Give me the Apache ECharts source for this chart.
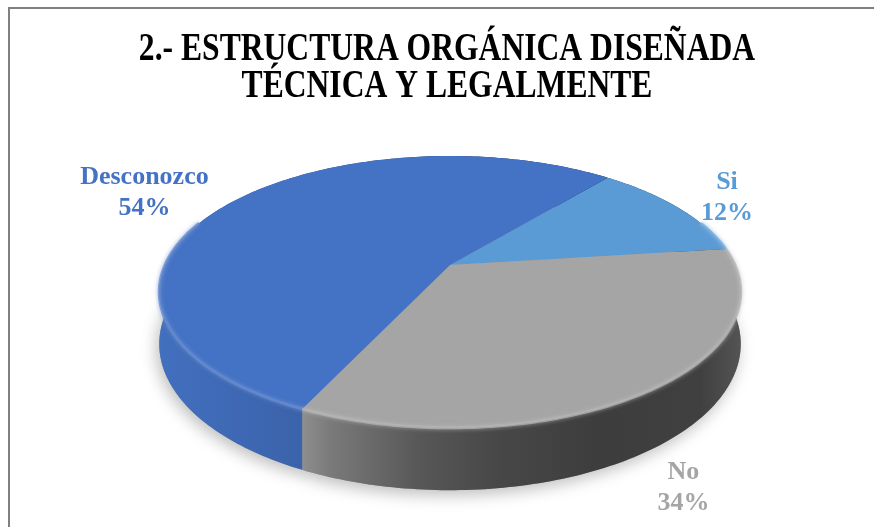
<!DOCTYPE html>
<html>
<head>
<meta charset="utf-8">
<script src="https://cdn.jsdelivr.net/npm/echarts@6/dist/echarts.min.js"></script>
<style>
  html, body { margin: 0; padding: 0; background: #fff; }
  #chart { width: 874px; height: 527px; }
</style>
</head>
<body>
<div id="chart"></div>
<script>
// datos
var categories = ['Si', 'No', 'Desconozco'];
var values = [12, 34, 54];
var sliceColors = ['#5B9BD5', '#A5A5A5', '#4472C4'];
var titleText = '2.- ESTRUCTURA ORGÁNICA DISEÑADA\nTÉCNICA Y LEGALMENTE';

// geometria del pastel 3D (perspectiva)
var CX = 450, CY = 265, RX = 285, RY = 130.6, P = 0.198, T = 50;
var START = -50.4; // grados, sentido horario en pantalla
var labelOffsets = [[49, -10], [34, 37], [-88, -9]];

var total = values.reduce(function (a, b) { return a + b; }, 0);

function proj(u, v) {
  var s = 1 / (1 - P * v);
  return [CX + RX * u * s, CY + RY * v * s];
}
function thick(v) { return T / (1 - P * v); }

function shade(hex, f) {
  var n = parseInt(hex.slice(1), 16);
  var r = Math.round(((n >> 16) & 255) * f);
  var g = Math.round(((n >> 8) & 255) * f);
  var b = Math.round((n & 255) * f);
  return 'rgb(' + r + ',' + g + ',' + b + ')';
}
function tint(hex, f) {
  var n = parseInt(hex.slice(1), 16);
  var c = [(n >> 16) & 255, (n >> 8) & 255, n & 255].map(function (x) {
    return Math.round(x + (255 - x) * f);
  });
  return 'rgb(' + c.join(',') + ')';
}

// iluminacion del costado segun x
var sideStops = [[160, 0.97], [300, 0.87], [330, 0.74], [420, 0.53], [500, 0.43], [600, 0.37], [700, 0.39], [745, 0.52]];

function sideFill(hex) {
  var stops = sideStops.map(function (s) {
    return { offset: (s[0] - 160) / 585, color: shade(hex, s[1]) };
  });
  return new echarts.graphic.LinearGradient(160, 0, 745, 0, stops, true);
}

function renderItem(params, api) {
  var i = params.dataIndex;
  var before = 0;
  for (var k = 0; k < i; k++) before += values[k];
  var a0 = START + before / total * 360;
  var a1 = a0 + api.value(0) / total * 360;
  var color = sliceColors[i];

  var topPts = [], botPts = [], rimFront = [];
  var steps = Math.max(2, Math.ceil((a1 - a0) / 1));
  for (var j = 0; j <= steps; j++) {
    var a = (a0 + (a1 - a0) * j / steps) * Math.PI / 180;
    var u = Math.cos(a), v = Math.sin(a);
    var p = proj(u, v);
    topPts.push(p);
    botPts.push([p[0], p[1] + thick(v)]);
    if (v > -0.35) rimFront.push(p);
  }
  var c = proj(0, 0);
  var topPoly = [c].concat(topPts);
  var sidePoly = topPts.concat(botPts.slice().reverse());
  var botPoly = [[c[0], c[1] + thick(0)]].concat(botPts);

  var children = [
    {
      type: 'polygon', z2: 0,
      shape: { points: botPoly },
      style: { fill: '#999', shadowBlur: 16, shadowColor: 'rgba(0,0,0,0.26)', shadowOffsetX: -3, shadowOffsetY: 5 }
    },
    {
      type: 'polygon', z2: 1,
      shape: { points: sidePoly },
      style: { fill: sideFill(color) }
    },
    {
      type: 'polygon', z2: 5,
      shape: { points: topPoly },
      style: { fill: color }
    }
  ];
  if (rimFront.length > 1) {
    children.push({
      type: 'polyline', z2: 6,
      shape: { points: rimFront },
      style: { stroke: tint(color, 0.18), lineWidth: 3, fill: null, opacity: 0.75, shadowBlur: 4, shadowColor: tint(color, 0.25) }
    });
  }

  // etiqueta
  var mid = ((a0 + a1) / 2) * Math.PI / 180;
  var mu = Math.cos(mid), mv = Math.sin(mid);
  var anchor = proj(mu, mv);
  if (mv > 0) anchor[1] += thick(mv);
  var off = labelOffsets[i];
  children.push({
    type: 'text', z2: 20,
    x: anchor[0] + off[0], y: anchor[1] + off[1],
    style: {
      text: categories[i] + '\n' + Math.round(api.value(0) / total * 100) + '%',
      fill: color,
      font: 'bold 26px "Liberation Serif", "Times New Roman", serif',
      align: 'center', verticalAlign: 'middle', lineHeight: 31
    }
  });
  return { type: 'group', children: children };
}

var chart = echarts.init(document.getElementById('chart'));
chart.setOption({
  animation: false,
  graphic: [
    {
      type: 'polyline', silent: true,
      shape: { points: [[9, 527], [9, 8], [874, 8]] },
      style: { stroke: '#808080', lineWidth: 2, fill: null }
    },
    {
      type: 'text', x: 447, y: 68, scaleX: 0.79,
      style: {
        text: titleText, fill: '#000',
        font: 'bold 40px "Liberation Serif", "Times New Roman", serif',
        align: 'center', verticalAlign: 'middle', lineHeight: 37
      }
    }
  ],
  series: [{
    type: 'custom',
    coordinateSystem: 'none',
    renderItem: renderItem,
    data: values.map(function (v, i) { return { value: v, name: categories[i] }; })
  }]
});
</script>
</body>
</html>
